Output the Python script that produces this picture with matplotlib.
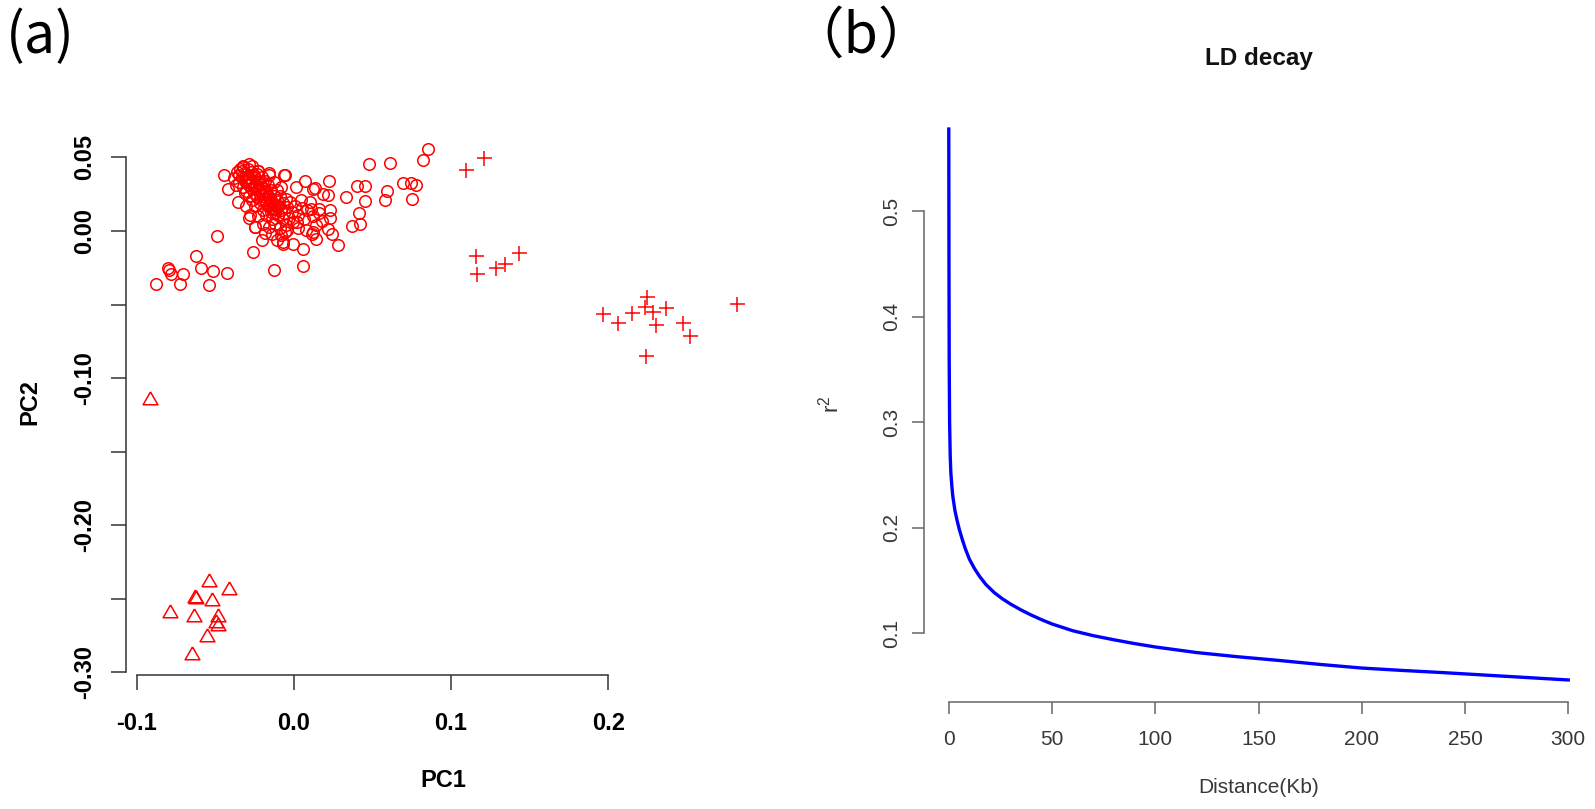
import matplotlib
matplotlib.use("Agg")
import matplotlib.pyplot as plt

# ---- panel (a): PCA of samples, three groups ----
# group 1 (open circles)
circle_pc1 = [0.0855, 0.0820, 0.0477, 0.0613, 0.0696, 0.0745, 0.0777, 0.0751, 0.0594, 0.0582,
              0.0399, 0.0454, 0.0454, 0.0329, 0.0416, 0.0420, 0.0368, 0.0225, 0.0219, 0.0183,
              0.0134, 0.0119, 0.0070, 0.0013, -0.0057, 0.0229, 0.0229, 0.0161, 0.0108, 0.0049,
              0.0215, 0.0240, 0.0282, 0.0123, 0.0140, 0.0112, 0.0017, -0.0005, 0.0055, 0.0059,
              -0.0069, -0.0126, -0.0259, -0.0206, -0.0110, -0.0072, -0.0057, -0.0489, -0.0620, -0.0592,
              -0.0514, -0.0425, -0.0539, -0.0795, -0.0783, -0.0705, -0.0722, -0.0879, -0.0801,
              -0.0444, -0.0418, -0.0355, -0.0327, -0.0285, -0.0228, -0.0158, -0.0064, -0.0281, -0.0249,
              -0.0380, -0.0361, -0.0351, -0.0342, -0.0332, -0.0322, -0.0322, -0.0313, -0.0303, -0.0303,
              -0.0293, -0.0293, -0.0284, -0.0284, -0.0274, -0.0274, -0.0264, -0.0264, -0.0255, -0.0255,
              -0.0245, -0.0245, -0.0235, -0.0235, -0.0226, -0.0226, -0.0216, -0.0216, -0.0206, -0.0206,
              -0.0197, -0.0197, -0.0187, -0.0187, -0.0177, -0.0177, -0.0168, -0.0168, -0.0158, -0.0158,
              -0.0148, -0.0148, -0.0138, -0.0138, -0.0129, -0.0129, -0.0119, -0.0119, -0.0109, -0.0109,
              -0.0100, -0.0100, -0.0090, -0.0090, -0.0080, -0.0080, -0.0071, -0.0071, -0.0061, -0.0051,
              -0.0051, -0.0042, -0.0032, -0.0022, -0.0013, -0.0003, 0.0007, 0.0026, 0.0045, 0.0065,
              0.0084, 0.0104, 0.0123, 0.0142, 0.0162, 0.0181,
              -0.0371, -0.0351, -0.0332, -0.0313, -0.0293, -0.0274, -0.0264, -0.0255, -0.0235, -0.0226,
              -0.0216, -0.0206, -0.0197, -0.0187, -0.0177, -0.0168, -0.0158, -0.0148, -0.0138, -0.0129,
              -0.0119, -0.0109, -0.0245, -0.0284, -0.0303, -0.0216,
              -0.0303, -0.0284, -0.0245, -0.0226, -0.0197, -0.0158, -0.0138, -0.0187, -0.0080, -0.0042,
              0.0026, 0.0074]
circle_pc2 = [0.0556, 0.0481, 0.0457, 0.0463, 0.0327, 0.0327, 0.0311, 0.0220, 0.0270, 0.0209,
              0.0309, 0.0309, 0.0204, 0.0231, 0.0122, 0.0050, 0.0034, 0.0340, 0.0243, 0.0250,
              0.0295, 0.0288, 0.0338, 0.0299, 0.0379, 0.0146, 0.0088, 0.0152, 0.0152, 0.0159,
              0.0016, -0.0022, -0.0097, -0.0007, -0.0052, -0.0018, 0.0061, -0.0086, -0.0124, -0.0240,
              -0.0075, -0.0267, -0.0143, -0.0059, -0.0063, -0.0086, -0.0007, -0.0036, -0.0172, -0.0249,
              -0.0274, -0.0286, -0.0369, -0.0267, -0.0295, -0.0295, -0.0363, -0.0363, -0.0254,
              0.0379, 0.0288, 0.0197, 0.0435, 0.0454, 0.0408, 0.0397, 0.0384, 0.0107, 0.0027,
              0.036, 0.040, 0.033, 0.042, 0.037, 0.030, 0.044, 0.034, 0.039, 0.027,
              0.042, 0.032, 0.036, 0.024, 0.040, 0.029, 0.033, 0.021, 0.038, 0.026,
              0.031, 0.017, 0.035, 0.023, 0.041, 0.028, 0.019, 0.032, 0.025, 0.037,
              0.014, 0.029, 0.021, 0.034, 0.026, 0.011, 0.017, 0.031, 0.023, 0.038,
              0.013, 0.028, 0.019, 0.008, 0.024, 0.033, 0.015, 0.005, 0.021, 0.028,
              0.011, 0.017, 0.024, 0.002, 0.014, 0.030, 0.008, 0.019, 0.012, 0.022,
              0.004, 0.016, 0.009, 0.020, 0.013, 0.006, 0.017, 0.011, 0.021, 0.008,
              0.014, 0.020, 0.010, 0.004, 0.012, 0.007,
              0.031, 0.038, 0.041, 0.026, 0.036, 0.034, 0.044, 0.030, 0.039, 0.033,
              0.027, 0.030, 0.024, 0.027, 0.020, 0.024, 0.018, 0.021, 0.015, 0.018,
              0.012, 0.016, 0.036, 0.031, 0.033, 0.022,
              0.017, 0.009, 0.003, 0.010, 0.005, 0.003, -0.002, -0.001, -0.003, 0.001,
              0.002, 0.001]

# group 2 (plus signs)
plus_pc1 = [0.1095, 0.1210, 0.1159, 0.1163, 0.1286, 0.1345, 0.1435, 0.1970, 0.2065, 0.2151,
            0.2246, 0.2235, 0.2288, 0.2367, 0.2305, 0.2479, 0.2522, 0.2242, 0.2823]
plus_pc2 = [0.0418, 0.0495, -0.0172, -0.0290, -0.0249, -0.0227, -0.0150, -0.0562, -0.0626, -0.0558,
            -0.0449, -0.0517, -0.0551, -0.0524, -0.0641, -0.0626, -0.0714, -0.0846, -0.0499]

# group 3 (triangles)
tri_pc1 = [-0.0919, -0.0541, -0.0416, -0.0630, -0.0620, -0.0523, -0.0790, -0.0635, -0.0482,
           -0.0493, -0.0482, -0.0556, -0.0646]
tri_pc2 = [-0.1147, -0.2388, -0.2437, -0.2497, -0.2501, -0.2512, -0.2596, -0.2626, -0.2621,
           -0.2664, -0.2687, -0.2762, -0.2880]

pc1_ticks = [-0.1, 0.0, 0.1, 0.2]
pc1_labels = ["-0.1", "0.0", "0.1", "0.2"]
pc2_ticks = [-0.30, -0.25, -0.20, -0.15, -0.10, -0.05, 0.00, 0.05]
pc2_labels = ["-0.30", "", "-0.20", "", "-0.10", "", "0.00", "0.05"]

# ---- panel (b): LD decay curve ----
dist_kb = [0, 0.1, 0.2, 0.4, 0.7, 1, 1.5, 2, 3, 4, 5, 6.5, 8, 10, 12.5, 15, 18, 22, 26, 30,
           35, 40, 45, 50, 60, 70, 80, 90, 100, 120, 140, 160, 180, 200, 220, 240, 260, 280, 300]
r2 = [0.578, 0.45, 0.36, 0.30, 0.268, 0.252, 0.239, 0.229, 0.216, 0.207, 0.199, 0.189, 0.180,
      0.170, 0.161, 0.1535, 0.1460, 0.1384, 0.1324, 0.1274, 0.1219, 0.1170, 0.1126, 0.1086,
      0.1022, 0.0975, 0.0936, 0.0900, 0.0868, 0.0815, 0.0775, 0.0740, 0.0702, 0.0668, 0.0645,
      0.0624, 0.0601, 0.0578, 0.0555]
dist_ticks = [0, 50, 100, 150, 200, 250, 300]
r2_ticks = [0.1, 0.2, 0.3, 0.4, 0.5]

W, H = 1595, 809
plt.rcParams["font.family"] = ["Liberation Sans", "DejaVu Sans"]
plt.rcParams["mathtext.fontset"] = "custom"
plt.rcParams["mathtext.rm"] = "Liberation Sans"
fig = plt.figure(figsize=(W / 100, H / 100), dpi=100)


def px_axes(l, t, r, b):
    return fig.add_axes([l / W, 1 - b / H, (r - l) / W, (b - t) / H])


def r_style(ax, xb, yb, color, tick_len):
    # R base graphics look: no box, axis lines only between first and last tick
    for s in ("top", "right"):
        ax.spines[s].set_visible(False)
    for s in ("left", "bottom"):
        ax.spines[s].set_color(color)
        ax.spines[s].set_linewidth(1.1)
    ax.spines["bottom"].set_bounds(*xb)
    ax.spines["left"].set_bounds(*yb)
    ax.tick_params(direction="out", length=tick_len, width=1.1, color=color)


# (a)
ax1 = px_axes(126, 129, 761, 675)
red = "#ff0000"
ax1.plot(circle_pc1, circle_pc2, ls="none", marker="o", ms=8.3, mfc="none", mec=red, mew=1.1)
ax1.plot(plus_pc1, plus_pc2, ls="none", marker="+", ms=10.8, mec=red, mew=1.1)
tri = [(0, 1), (-0.866, -0.5), (0.866, -0.5), (0, 1)]
ax1.plot(tri_pc1, tri_pc2, ls="none", marker=tri, ms=12.3, mfc="none", mec=red, mew=1.1)
ax1.margins(0.04)
r_style(ax1, (-0.1, 0.2), (-0.30, 0.05), "#333333", 10.8)
ax1.set_xticks(pc1_ticks, pc1_labels, fontsize=17, fontweight="bold")
ax1.set_yticks(pc2_ticks, pc2_labels, fontsize=17, fontweight="bold", rotation=90, va="center")
ax1.tick_params(axis="x", pad=16)
ax1.tick_params(axis="y", pad=11)
ax1.set_xlabel("PC1", fontsize=17, fontweight="bold", va="center")
ax1.xaxis.set_label_coords(0.5, -0.194)
ax1.set_ylabel("PC2", fontsize=17, fontweight="bold", va="center")
ax1.yaxis.set_label_coords(-0.151, 0.5)

# (b)
ax2 = px_axes(924, 107, 1593, 702)
ax2.plot(dist_kb, r2, color="#0000ff", lw=2.4)
ax2.margins(0.04)
r_style(ax2, (0, 300), (0.1, 0.5), "#666666", 8.6)
ax2.set_xticks(dist_ticks, [str(t) for t in dist_ticks], fontsize=15, color="#383838")
ax2.set_yticks(r2_ticks, [f"{t:.1f}" for t in r2_ticks], fontsize=15, color="#383838",
               rotation=90, va="center")
ax2.tick_params(axis="x", pad=11.5)
ax2.tick_params(axis="y", pad=8)
ax2.set_xlabel("Distance(Kb)", fontsize=15, color="#383838", va="center")
ax2.xaxis.set_label_coords(0.5, -0.143)
ax2.set_ylabel(r"$\mathrm{r}^{2}$", fontsize=16, color="#383838", va="center")
ax2.yaxis.set_label_coords(-0.14, 0.5)
ax2.text(0.5, 1.081, "LD decay", transform=ax2.transAxes, ha="center", va="center",
         fontsize=17.5, fontweight="bold", color="#111111")

# panel letters
fig.text(6 / W, 1 - 37 / H, "(a)", fontsize=40, ha="left", va="center",
         family=["Noto Sans CJK SC", "DejaVu Sans"])
fig.text(788 / W, 1 - 37 / H, "（b）", fontsize=40, ha="left", va="center",
         family=["Noto Sans CJK SC", "DejaVu Sans"])

fig.savefig("out.png", dpi=100)
